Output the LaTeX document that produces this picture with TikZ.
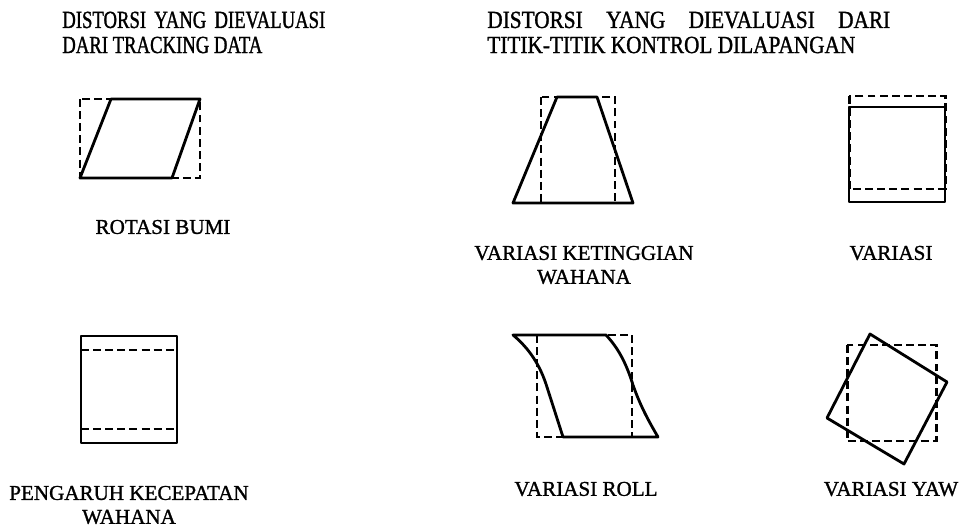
\documentclass[tikz,border=0pt]{standalone}
\usepackage{fontspec}
\setmainfont[FakeBold=1.2]{Liberation Serif}
\newfontfamily\judulfont[FakeStretch=0.76, FakeBold=1.2]{Liberation Serif}
\newfontfamily\judullebar[FakeStretch=0.865, FakeBold=1.2]{Liberation Serif}
\tikzset{
  garis/.style={line width=1.6pt, line join=round},
  putus/.style={line width=1.7pt, dash pattern=on 4.5pt off 2.4pt},
  keterangan/.style={font=\fontsize{12}{13.6}\selectfont, align=center, inner sep=0pt},
  judul/.style={font=\judulfont\fontsize{14}{15}\selectfont, anchor=west, inner sep=0pt},
  judulkanan/.style={judul, font=\judullebar\fontsize{14}{15}\selectfont}
}
\begin{document}
\begin{tikzpicture}[x=0.02cm, y=-0.02cm]
    \useasboundingbox (0,0) rectangle (974,530);
    %judul kiri
    \node[judul] (judulkiri1) at (62,20) {\makebox[5.26cm][s]{DISTORSI YANG DIEVALUASI}};
    \node[judul] (judulkiri2) at (62,45) {DARI TRACKING DATA};
    %judul kanan
    \node[judulkanan] (judulkanan1) at (487,20) {\makebox[8.06cm][s]{DISTORSI YANG DIEVALUASI DARI}};
    \node[judulkanan] (judulkanan2) at (487,45) {TITIK-TITIK KONTROL DILAPANGAN};
    %%%%%%%%%%%%%%%%%%%%%%%%%%%%%%%%%%%%%%%%%%%%%%%%%%%%%%%%%%%%%%%%%%%%%%%%%%
    %gambar rotasi bumi
    \draw[putus] (80,99) rectangle (200,178);
    \draw[garis] (80,178) -- (111,99) -- (200,99) -- (172,178) -- cycle;
    \node[keterangan] (rotasi) at (163,227) {ROTASI BUMI};
    %gambar variasi ketinggian
    \draw[putus] (541,97) rectangle (615,203);
    \draw[garis] (513,203) -- (557,97) -- (597,97) -- (633,203) -- cycle;
    \node[keterangan] (tinggi) at (584,265) {VARIASI KETINGGIAN\\WAHANA};
    %gambar variasi pitch
    \draw[putus] (849,96) rectangle (945,189);
    \draw[garis] (849,107) rectangle (945,202);
    \node[keterangan] (pitch) at (891,253) {VARIASI};
    %%%%%%%%%%%%%%%%%%%%%%%%%%%%%%%%%%%%%%%%%%%%%%%%%%%%%%%%%%%%%%%%%%%%%%%%%%
    %gambar pengaruh kecepatan
    \draw[garis] (81,336) rectangle (177,443);
    \draw[putus] (81,350) -- (177,350) (81,429) -- (177,429);
    \node[keterangan] (kecepatan) at (129,505) {PENGARUH KECEPATAN\\WAHANA};
    %gambar variasi roll
    \draw[putus] (537,335) rectangle (632,437);
    \draw[garis] (513,335) .. controls (525,345) and (538,360) .. (546,384) -- (563,437) -- (658,437)
        .. controls (648,420) and (640,405) .. (633,385) .. controls (627,366) and (620,350) .. (606,335) -- cycle;
    \node[keterangan] (roll) at (586,489) {VARIASI ROLL};
    %gambar variasi yaw
    \draw[putus] (847,345) rectangle (936,441);
    \draw[garis] (870,334) -- (947,382) -- (904,464) -- (827,418) -- cycle;
    \node[keterangan] (yaw) at (891,489) {VARIASI YAW};
\end{tikzpicture}
\end{document}
